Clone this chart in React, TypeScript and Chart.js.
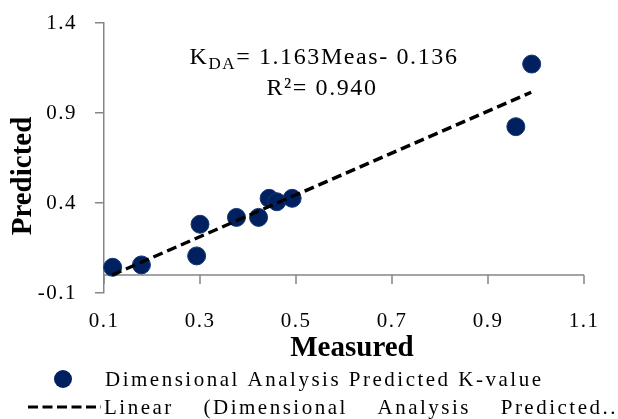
import React, { useEffect, useRef } from "react";
import { Chart, registerables } from "chart.js";

Chart.register(...registerables);

const measured = [0.118, 0.178, 0.293, 0.3, 0.376, 0.422, 0.444, 0.46, 0.492, 0.958, 0.991];
const predicted = [0.043, 0.056, 0.106, 0.282, 0.32, 0.32, 0.426, 0.407, 0.426, 0.824, 1.172];
const trendX = [0.117, 0.99];
const trendY = [0.0, 1.015];
const seriesLabel = "Dimensional Analysis Predicted K-value";
const trendLabel = "Linear (Dimensional Analysis Predicted..";
const xTitle = "Measured";
const yTitle = "Predicted";
const eqMain = "K";
const eqSub = "DA";
const eqRest = "= 1.163Meas- 0.136";
const r2Text = "R\u00b2= 0.940";

const SERIF = "'Liberation Serif', 'Times New Roman', serif";
const AXIS = "#868686";
const NAVY = "#002060";

export default function App() {
  const ref = useRef<HTMLCanvasElement | null>(null);
  useEffect(() => {
    const canvas = ref.current;
    if (!canvas) return;

    const overlay = {
      id: "overlay",
      beforeDraw(chart: any) {
        (chart.ctx as any).letterSpacing = "1.5px";
      },
      beforeDatasetsDraw(chart: any) {
        const { ctx, chartArea, scales } = chart;
        const y0 = scales.y.getPixelForValue(0);
        ctx.save();
        ctx.strokeStyle = AXIS;
        ctx.lineWidth = 1.5;
        ctx.beginPath();
        ctx.moveTo(chartArea.left, y0);
        ctx.lineTo(chartArea.right, y0);
        scales.x.ticks.forEach((t: any) => {
          const px = scales.x.getPixelForValue(t.value);
          ctx.moveTo(px, y0);
          ctx.lineTo(px, y0 + 9);
        });
        ctx.stroke();
        ctx.restore();
      },
      afterDraw(chart: any) {
        const { ctx, chartArea } = chart;
        ctx.save();
        ctx.fillStyle = "#000";
        // axis titles
        ctx.letterSpacing = "0px";
        ctx.font = `bold 29px ${SERIF}`;
        ctx.textAlign = "center";
        ctx.textBaseline = "middle";
        ctx.fillText(xTitle, (chartArea.left + chartArea.right) / 2 + 8, 349);
        ctx.save();
        ctx.translate(24, (chartArea.top + chartArea.bottom) / 2 + 18);
        ctx.rotate(-Math.PI / 2);
        ctx.fillText(yTitle, 0, 0);
        ctx.restore();

        // equation
        ctx.textAlign = "left";
        ctx.textBaseline = "alphabetic";
        ctx.letterSpacing = "1.6px";
        ctx.font = `24px ${SERIF}`;
        const wK = ctx.measureText(eqMain).width;
        ctx.font = `17px ${SERIF}`;
        const wSub = ctx.measureText(eqSub).width;
        ctx.font = `24px ${SERIF}`;
        const wRest = ctx.measureText(eqRest).width;
        const total = wK + wSub + wRest;
        let x = 324 - total / 2;
        ctx.fillText(eqMain, x, 64);
        x += wK;
        ctx.font = `17px ${SERIF}`;
        ctx.fillText(eqSub, x, 69);
        x += wSub;
        ctx.font = `24px ${SERIF}`;
        ctx.fillText(eqRest, x, 64);
        ctx.textAlign = "center";
        ctx.fillText(r2Text, 322, 95);

        // legend
        const ds0 = chart.data.datasets[0];
        const ds1 = chart.data.datasets[1];
        ctx.fillStyle = NAVY;
        ctx.beginPath();
        ctx.arc(63, 379, 9, 0, Math.PI * 2);
        ctx.fill();
        ctx.fillStyle = "#000";
        ctx.textAlign = "left";
        ctx.textBaseline = "middle";
        ctx.font = `21px ${SERIF}`;
        ctx.letterSpacing = "2.5px";
        ctx.fillText(ds0.label, 105, 380);

        ctx.strokeStyle = "#000";
        ctx.lineWidth = 3;
        ctx.setLineDash([10, 4.5]);
        ctx.beginPath();
        ctx.moveTo(28, 407);
        ctx.lineTo(101, 407);
        ctx.stroke();
        ctx.setLineDash([]);

        const words = String(ds1.label).split(" ");
        const widths = words.map((w: string) => ctx.measureText(w).width);
        const sum = widths.reduce((a: number, b: number) => a + b, 0);
        const start = 104;
        const end = 618;
        const gap = (end - start - sum) / (words.length - 1);
        let wx = start;
        words.forEach((w: string, i: number) => {
          ctx.fillText(w, wx, 408);
          wx += widths[i] + gap;
        });
        ctx.restore();
      },
    };

    const chart = new Chart(canvas, {
      type: "scatter",
      data: {
        datasets: [
          {
            label: seriesLabel,
            data: measured.map((m, i) => ({ x: m, y: predicted[i] })),
            backgroundColor: NAVY,
            borderColor: "#143574",
            borderWidth: 1,
            pointRadius: 9,
            clip: false as any,
            order: 1,
          },
          {
            type: "line" as any,
            label: trendLabel,
            data: trendX.map((t, i) => ({ x: t, y: trendY[i] })),
            borderColor: "#000",
            borderWidth: 3.4,
            borderDash: [10, 5],
            pointRadius: 0,
            fill: false,
            showLine: true,
            order: 0,
          } as any,
        ],
      },
      options: {
        animation: false,
        responsive: false,
        devicePixelRatio: 1,
        layout: { padding: { left: 0, top: 23, right: 34, bottom: 0 } },
        plugins: { legend: { display: false }, tooltip: { enabled: false } },
        scales: {
          x: {
            type: "linear",
            min: 0.1,
            max: 1.1,
            afterFit: (s: any) => {
              s.height = 126;
              s.paddingLeft = 0;
              s.paddingRight = 0;
            },
            border: { display: false },
            grid: { display: false, drawTicks: false },
            ticks: {
              stepSize: 0.2,
              padding: 16,
              color: "#000",
              font: { family: SERIF, size: 21 },
              callback: (v: any) => Number(v).toFixed(1),
            },
          },
          y: {
            type: "linear",
            min: -0.1,
            max: 1.4,
            afterFit: (s: any) => {
              s.width = 104;
              s.paddingTop = 0;
              s.paddingBottom = 0;
            },
            border: { display: true, color: AXIS, width: 1.5 },
            grid: { drawOnChartArea: false, drawTicks: true, tickLength: 9, color: AXIS, lineWidth: 1.5 },
            ticks: {
              stepSize: 0.5,
              padding: 18,
              color: "#000",
              font: { family: SERIF, size: 21 },
              callback: (v: any) => Number(v).toFixed(1),
            },
          },
        },
      },
      plugins: [overlay],
    });
    return () => chart.destroy();
  }, []);

  return (
    <div style={{ position: "absolute", left: 0, top: 0, width: 618, height: 419, background: "#fff" }}>
      <canvas ref={ref} width={618} height={419} style={{ width: 618, height: 419 }} />
    </div>
  );
}
